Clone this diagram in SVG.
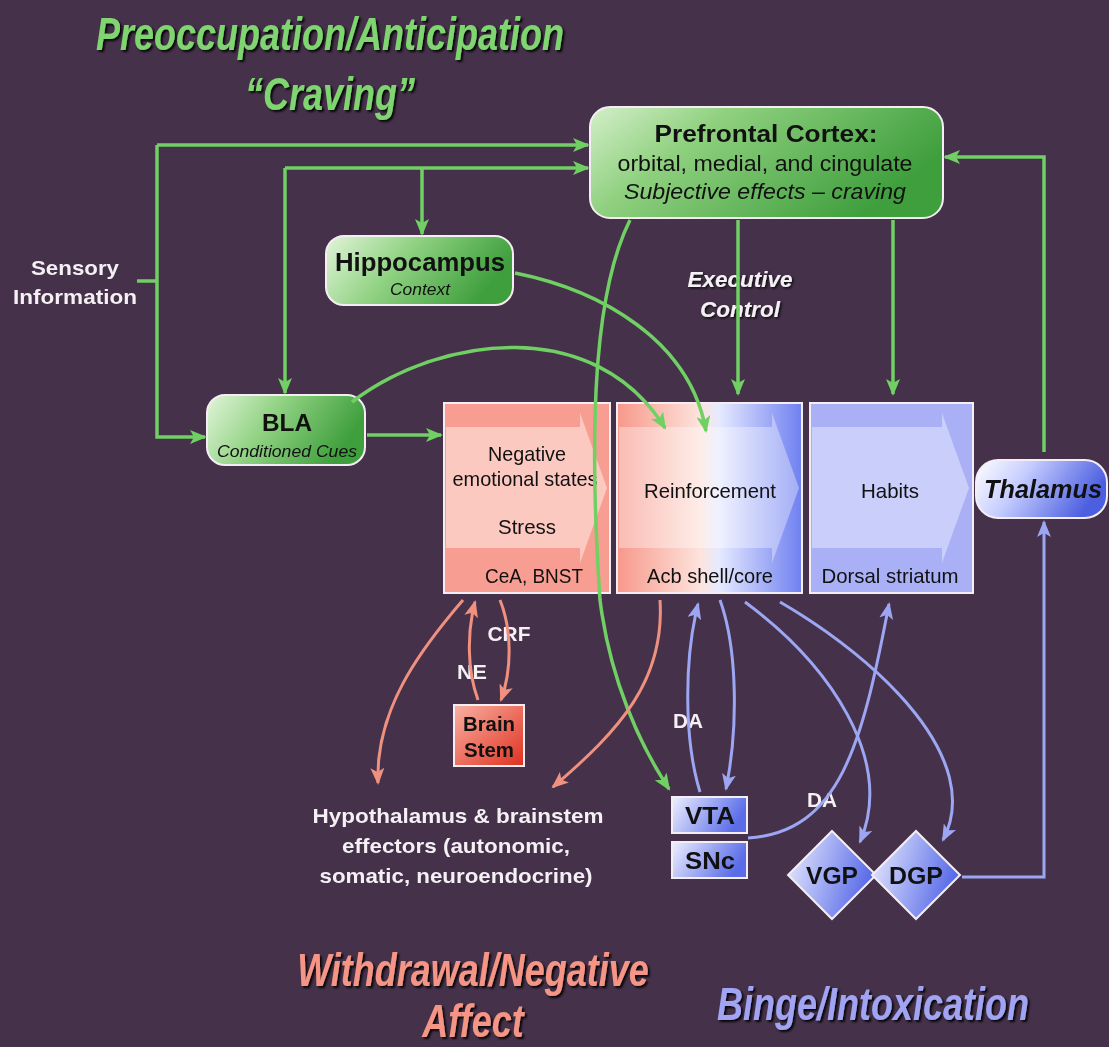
<svg xmlns="http://www.w3.org/2000/svg" width="1109" height="1047" viewBox="0 0 1109 1047">
<defs>
<style>
.t{font-family:"Liberation Sans",Arial,sans-serif;}
.title{font-family:"Liberation Sans",Arial,sans-serif;font-weight:bold;font-style:italic;font-size:36px;}
.wl{fill:#f4f0f4;font-weight:bold;}
.bk{fill:#111;}
.g{fill:none;stroke:#70d064;stroke-width:3.5;}
.s{fill:none;stroke:#f0907f;stroke-width:3;}
.b{fill:none;stroke:#9ca6f2;stroke-width:3;}
.box{stroke:#f4eef4;stroke-width:2;}
</style>
<filter id="sh" filterUnits="userSpaceOnUse" x="0" y="0" width="1109" height="1047"><feDropShadow dx="2" dy="2" stdDeviation="1.2" flood-color="#000" flood-opacity="0.9"/></filter>
<filter id="sh2" filterUnits="userSpaceOnUse" x="0" y="0" width="1109" height="1047"><feDropShadow dx="1.5" dy="1.5" stdDeviation="0.8" flood-color="#000" flood-opacity="0.8"/></filter>
<marker id="ag" markerUnits="userSpaceOnUse" markerWidth="18" markerHeight="14" refX="15" refY="7" orient="auto"><path d="M0,0 L17,7 L0,14 L4,7 Z" fill="#70d064"/></marker>
<marker id="as" markerUnits="userSpaceOnUse" markerWidth="18" markerHeight="14" refX="15" refY="7" orient="auto"><path d="M0,0 L17,7 L0,14 L4,7 Z" fill="#f0907f"/></marker>
<marker id="ab" markerUnits="userSpaceOnUse" markerWidth="18" markerHeight="14" refX="15" refY="7" orient="auto"><path d="M0,0 L17,7 L0,14 L4,7 Z" fill="#9ca6f2"/></marker>
<linearGradient id="gG" x1="0" y1="0" x2="1" y2="0.3"><stop offset="0" stop-color="#e2f4da"/><stop offset="0.45" stop-color="#92d384"/><stop offset="1" stop-color="#3f9f3d"/></linearGradient>
<linearGradient id="gPFC" x1="0" y1="0" x2="1" y2="0.4"><stop offset="0" stop-color="#d4efc9"/><stop offset="0.35" stop-color="#8fd07f"/><stop offset="1" stop-color="#3f9f3d"/></linearGradient>
<linearGradient id="gR" x1="0" y1="0" x2="1" y2="0"><stop offset="0" stop-color="#f7988a"/><stop offset="0.45" stop-color="#fde3dc"/><stop offset="0.55" stop-color="#e6eaff"/><stop offset="1" stop-color="#6f80f0"/></linearGradient>
<linearGradient id="gB" x1="0" y1="0" x2="1" y2="0.3"><stop offset="0" stop-color="#eef0ff"/><stop offset="1" stop-color="#5a6ce8"/></linearGradient>
<linearGradient id="gT" x1="0" y1="0" x2="1" y2="0.3"><stop offset="0" stop-color="#ffffff"/><stop offset="0.4" stop-color="#c7ceff"/><stop offset="1" stop-color="#4c5fe0"/></linearGradient>
<linearGradient id="gBS" x1="0" y1="0" x2="1" y2="1"><stop offset="0" stop-color="#f9b2a3"/><stop offset="1" stop-color="#e0301f"/></linearGradient>
</defs>
<rect width="1109" height="1047" fill="#45324a"/>

<g id="titles" filter="url(#sh)">
<text class="title" transform="translate(330,50) scale(1,1.3)" text-anchor="middle" fill="#7fd66f">Preoccupation/Anticipation</text>
<text class="title" transform="translate(330,110) scale(1,1.3)" text-anchor="middle" fill="#7fd66f">“Craving”</text>
<text class="title" transform="translate(473,986) scale(1,1.3)" text-anchor="middle" fill="#f49585">Withdrawal/Negative</text>
<text class="title" transform="translate(473,1037) scale(1,1.3)" text-anchor="middle" fill="#f49585">Affect</text>
<text class="title" transform="translate(873,1020) scale(1,1.3)" text-anchor="middle" fill="#a1a4f2">Binge/Intoxication</text>
</g>

<g id="labels" class="t">
<text class="wl" x="75" y="275" font-size="21" text-anchor="middle" textLength="88" lengthAdjust="spacingAndGlyphs">Sensory</text>
<text class="wl" x="75" y="304" font-size="21" text-anchor="middle" textLength="124" lengthAdjust="spacingAndGlyphs">Information</text>
<text class="wl" x="740" y="287" font-size="22" font-style="italic" text-anchor="middle" filter="url(#sh2)" textLength="105" lengthAdjust="spacingAndGlyphs">Executive</text>
<text class="wl" x="740" y="317" font-size="22" font-style="italic" text-anchor="middle" filter="url(#sh2)" textLength="80" lengthAdjust="spacingAndGlyphs">Control</text>
<text class="wl" x="509" y="641" font-size="20" text-anchor="middle" textLength="43" lengthAdjust="spacingAndGlyphs">CRF</text>
<text class="wl" x="472" y="679" font-size="20" text-anchor="middle" textLength="30" lengthAdjust="spacingAndGlyphs">NE</text>
<text class="wl" x="688" y="728" font-size="20" text-anchor="middle" textLength="30" lengthAdjust="spacingAndGlyphs">DA</text>
<text class="wl" x="822" y="807" font-size="20" text-anchor="middle" textLength="30" lengthAdjust="spacingAndGlyphs">DA</text>
<text class="wl" x="458" y="823" font-size="21" text-anchor="middle" textLength="291" lengthAdjust="spacingAndGlyphs">Hypothalamus &amp; brainstem</text>
<text class="wl" x="456" y="853" font-size="21" text-anchor="middle" textLength="228" lengthAdjust="spacingAndGlyphs">effectors (autonomic,</text>
<text class="wl" x="456" y="883" font-size="21" text-anchor="middle" textLength="273" lengthAdjust="spacingAndGlyphs">somatic, neuroendocrine)</text>
</g>

<g id="pfc" class="t">
<rect class="box" x="590" y="107" width="353" height="111" rx="20" fill="url(#gPFC)"/>
<text class="bk" x="766" y="142" font-size="24" font-weight="bold" text-anchor="middle" textLength="223" lengthAdjust="spacingAndGlyphs">Prefrontal Cortex:</text>
<text class="bk" x="765" y="171" font-size="22" text-anchor="middle" textLength="295" lengthAdjust="spacingAndGlyphs">orbital, medial, and cingulate</text>
<text class="bk" x="765" y="199" font-size="22" font-style="italic" text-anchor="middle" textLength="282" lengthAdjust="spacingAndGlyphs">Subjective effects – craving</text>
</g>

<g id="hippocampus" class="t">
<rect class="box" x="326" y="236" width="187" height="69" rx="18" fill="url(#gG)"/>
<text class="bk" x="420" y="271" font-size="25" font-weight="bold" text-anchor="middle" textLength="170" lengthAdjust="spacingAndGlyphs">Hippocampus</text>
<text class="bk" x="420" y="295" font-size="17" font-style="italic" text-anchor="middle" textLength="60" lengthAdjust="spacingAndGlyphs">Context</text>
</g>

<g id="bla" class="t">
<rect class="box" x="207" y="395" width="158" height="70" rx="18" fill="url(#gG)"/>
<text class="bk" x="287" y="431" font-size="24" font-weight="bold" text-anchor="middle" textLength="50" lengthAdjust="spacingAndGlyphs">BLA</text>
<text class="bk" x="287" y="457" font-size="17" font-style="italic" text-anchor="middle" textLength="140" lengthAdjust="spacingAndGlyphs">Conditioned Cues</text>
</g>

<g id="negative" class="t">
<rect class="box" x="444" y="403" width="166" height="190" fill="#f89d91"/>
<path d="M446 427 H580 V413 L607 488 L580 563 V548 H446 Z" fill="#fcc9c0"/>
<text class="bk" x="527" y="461" font-size="21" text-anchor="middle" textLength="78" lengthAdjust="spacingAndGlyphs">Negative</text>
<text class="bk" x="525" y="486" font-size="21" text-anchor="middle" textLength="145" lengthAdjust="spacingAndGlyphs">emotional states</text>
<text class="bk" x="527" y="534" font-size="21" text-anchor="middle" textLength="58" lengthAdjust="spacingAndGlyphs">Stress</text>
<text class="bk" x="534" y="583" font-size="21" text-anchor="middle" textLength="98" lengthAdjust="spacingAndGlyphs">CeA, BNST</text>
</g>

<g id="reinforcement" class="t">
<rect class="box" x="617" y="403" width="185" height="190" fill="url(#gR)"/>
<path d="M619 427 H772 V413 L799 488 L772 563 V548 H619 Z" fill="#ffffff" fill-opacity="0.35"/>
<text class="bk" x="710" y="498" font-size="21" text-anchor="middle" textLength="132" lengthAdjust="spacingAndGlyphs">Reinforcement</text>
<text class="bk" x="710" y="583" font-size="21" text-anchor="middle" textLength="126" lengthAdjust="spacingAndGlyphs">Acb shell/core</text>
</g>

<g id="habits" class="t">
<rect class="box" x="810" y="403" width="163" height="190" fill="#a9b0f6"/>
<path d="M812 427 H942 V413 L969 488 L942 563 V548 H812 Z" fill="#cacefa"/>
<text class="bk" x="890" y="498" font-size="21" text-anchor="middle" textLength="58" lengthAdjust="spacingAndGlyphs">Habits</text>
<text class="bk" x="890" y="583" font-size="21" text-anchor="middle" textLength="137" lengthAdjust="spacingAndGlyphs">Dorsal striatum</text>
</g>

<g id="thalamus" class="t">
<rect class="box" x="976" y="460" width="131" height="58" rx="22" fill="url(#gT)"/>
<text class="bk" x="1043" y="498" font-size="25" font-weight="bold" font-style="italic" text-anchor="middle" textLength="118" lengthAdjust="spacingAndGlyphs">Thalamus</text>
</g>

<g id="brainstem" class="t">
<rect class="box" x="454" y="705" width="70" height="61" fill="url(#gBS)"/>
<text class="bk" x="489" y="731" font-size="20" font-weight="bold" text-anchor="middle" textLength="52" lengthAdjust="spacingAndGlyphs">Brain</text>
<text class="bk" x="489" y="757" font-size="20" font-weight="bold" text-anchor="middle" textLength="50" lengthAdjust="spacingAndGlyphs">Stem</text>
</g>

<g id="vta" class="t">
<rect class="box" x="672" y="797" width="75" height="36" fill="url(#gB)"/>
<text class="bk" x="710" y="824" font-size="24" font-weight="bold" text-anchor="middle" textLength="50" lengthAdjust="spacingAndGlyphs">VTA</text>
</g>
<g id="snc" class="t">
<rect class="box" x="672" y="842" width="75" height="36" fill="url(#gB)"/>
<text class="bk" x="710" y="869" font-size="24" font-weight="bold" text-anchor="middle" textLength="50" lengthAdjust="spacingAndGlyphs">SNc</text>
</g>
<g id="vgp" class="t">
<path class="box" d="M832 831 L876 875 L832 919 L788 875 Z" fill="url(#gB)"/>
<text class="bk" x="832" y="884" font-size="24" font-weight="bold" text-anchor="middle" textLength="52" lengthAdjust="spacingAndGlyphs">VGP</text>
</g>
<g id="dgp" class="t">
<path class="box" d="M916 831 L960 875 L916 919 L872 875 Z" fill="url(#gB)"/>
<text class="bk" x="916" y="884" font-size="24" font-weight="bold" text-anchor="middle" textLength="54" lengthAdjust="spacingAndGlyphs">DGP</text>
</g>

<g id="connectors">
<path class="g" d="M137 281 H157"/>
<path class="g" d="M157 145 V437 H205" marker-end="url(#ag)"/>
<path class="g" d="M157 145 H588" marker-end="url(#ag)"/>
<path class="g" d="M285 168 H588" marker-end="url(#ag)"/>
<path class="g" d="M285 168 V393" marker-end="url(#ag)"/>
<path class="g" d="M422 168 V234" marker-end="url(#ag)"/>
<path class="g" d="M367 435 H441" marker-end="url(#ag)"/>
<path class="g" d="M352 402 C440 335, 595 315, 665 428" marker-end="url(#ag)"/>
<path class="g" d="M515 273 C600 290, 690 340, 706 431" marker-end="url(#ag)"/>
<path class="g" d="M630 220 C595 290, 588 420, 600 600 C610 680, 640 745, 669 789" marker-end="url(#ag)"/>
<path class="g" d="M738 220 V394" marker-end="url(#ag)"/>
<path class="g" d="M893 220 V394" marker-end="url(#ag)"/>
<path class="g" d="M1044 452 V157 H945" marker-end="url(#ag)"/>

<path class="s" d="M463 600 C420 650, 375 710, 378 783" marker-end="url(#as)"/>
<path class="s" d="M660 600 C665 680, 620 730, 553 787" marker-end="url(#as)"/>
<path class="s" d="M478 700 C467 670, 467 632, 475 602" marker-end="url(#as)"/>
<path class="s" d="M500 600 C512 630, 512 670, 501 700" marker-end="url(#as)"/>

<path class="b" d="M700 792 C684 740, 684 660, 698 604" marker-end="url(#ab)"/>
<path class="b" d="M720 600 C738 650, 738 730, 726 789" marker-end="url(#ab)"/>
<path class="b" d="M745 602 C830 665, 895 760, 860 842" marker-end="url(#ab)"/>
<path class="b" d="M780 602 C880 660, 985 760, 943 840" marker-end="url(#ab)"/>
<path class="b" d="M748 838 C840 832, 862 745, 889 604" marker-end="url(#ab)"/>
<path class="b" d="M962 877 H1044 V522" marker-end="url(#ab)"/>
</g>
</svg>
